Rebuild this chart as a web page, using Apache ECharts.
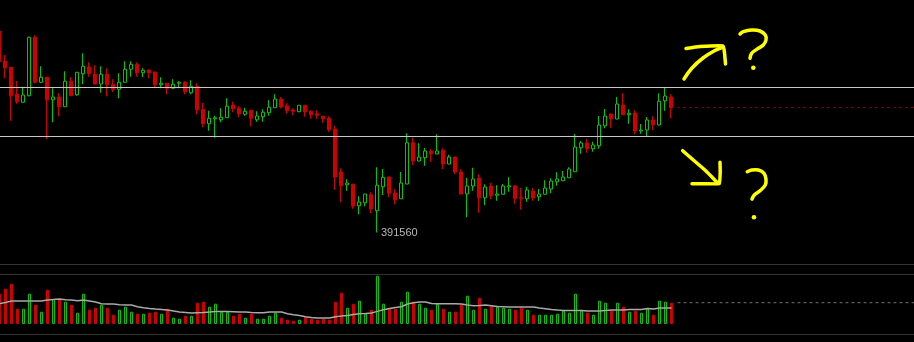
<!DOCTYPE html>
<html>
<head>
<meta charset="utf-8">
<script src="https://cdn.jsdelivr.net/npm/echarts@6/dist/echarts.min.js"></script>
<style>
  html, body { margin: 0; padding: 0; background: #000; }
  #chart { width: 914px; height: 342px; }
</style>
</head>
<body>
<div id="chart"></div>
<script>
// OHLC per bar, oldest first
const opens = [
  399620, 398420, 398170, 397090, 396770, 397030, 399370, 397570, 397770, 396870,
  396980, 396590, 397610, 397070, 397910, 398180, 397890, 397500, 397890, 397490,
  397290, 397570, 398090, 398290, 397950, 398050, 397970, 397470, 397530, 397330,
  397530, 397570, 397150, 397410, 396490, 395910, 396110, 396070, 396150, 396660,
  396530, 396290, 396450, 396070, 396190, 396350, 396550, 396900, 396620, 396460,
  396390, 396650, 396410, 396310, 396210, 396130, 395700, 393980, 393470, 393490,
  392630, 392750, 393070, 392430, 393390, 393780, 393140, 392910, 393500, 395150,
  394420, 394550, 394820, 394700, 394850, 394300, 394580, 393980, 393100, 393420,
  393740, 392950, 393420, 393050, 393090, 393380, 393420, 392950, 392910, 393220,
  392990, 393090, 393300, 393590, 393630, 393750, 393990, 394950, 395140, 394910,
  395030, 395830, 396300, 396100, 396660, 396270, 396340, 395620, 395660, 396060,
  395860, 396830, 396980
];
const closes = [
  398390, 398150, 397030, 396790, 397060, 399370, 397570, 397770, 396870, 396980,
  396590, 397610, 397030, 397970, 398210, 397910, 397500, 397890, 397470, 397290,
  397570, 398090, 398290, 397950, 398050, 397950, 397470, 397530, 397330, 397490,
  397570, 397190, 397410, 396470, 395910, 396130, 396150, 396170, 396610, 396510,
  396310, 396410, 396130, 396220, 396370, 396570, 396900, 396580, 396430, 396410,
  396650, 396390, 396270, 396250, 396110, 395670, 393780, 393430, 393540, 392620,
  392780, 393100, 392500, 393450, 393770, 393130, 392860, 393540, 395150, 394420,
  394580, 394820, 394710, 394820, 394300, 394580, 393980, 393100, 393420, 393700,
  392950, 393380, 393030, 393100, 393420, 393430, 392930, 392910, 393260, 392940,
  393100, 393340, 393620, 393700, 393780, 394100, 394980, 395140, 394910, 395060,
  395860, 396220, 396110, 396700, 396270, 396330, 395620, 395660, 396060, 395870,
  396810, 397020, 396560
];
const lows = [
  398380, 397730, 396030, 396710, 396750, 397010, 397530, 397530, 395290, 395970,
  396210, 396580, 397020, 397030, 397490, 397790, 397490, 397150, 397010, 397180,
  396930, 397550, 397790, 397790, 397770, 397730, 397370, 397330, 397090, 397310,
  397330, 397090, 397090, 396290, 395770, 395630, 395350, 395970, 396140, 396370,
  396170, 396230, 395810, 395990, 395990, 396230, 396540, 396530, 396310, 396250,
  396380, 396190, 396110, 396110, 395950, 395590, 393270, 392770, 393230, 392510,
  392290, 392610, 392330, 391560, 393060, 392970, 392690, 392900, 393490, 394250,
  394410, 394230, 394390, 394690, 394090, 394290, 393900, 393090, 392170, 393230,
  392350, 392650, 392890, 392830, 393070, 393190, 392710, 392470, 392790, 392830,
  392830, 393070, 393130, 393430, 393620, 393740, 393980, 394710, 394750, 394790,
  394910, 395730, 395750, 396090, 396260, 395910, 395490, 395510, 395420, 395650,
  395850, 396430, 396130
];
const highs = [
  399640, 398660, 398180, 397620, 397390, 399390, 399450, 398210, 397780, 397330,
  397130, 398010, 397770, 397980, 398730, 398370, 398250, 398210, 398130, 397690,
  397930, 398410, 398410, 398370, 398130, 398090, 398010, 397770, 397540, 397690,
  397610, 397610, 397650, 397530, 396750, 396430, 396230, 396530, 396930, 396790,
  396610, 396550, 396460, 396410, 396490, 396850, 397090, 396970, 396730, 396530,
  396660, 396660, 396450, 396450, 396220, 396210, 395830, 394130, 393690, 393510,
  393010, 393110, 393170, 394170, 394100, 393790, 393290, 393980, 395530, 395350,
  395130, 394940, 394890, 395490, 394930, 394670, 394590, 394090, 393750, 394150,
  393890, 393490, 393550, 393450, 393500, 393770, 393450, 393350, 393390, 393340,
  393300, 393650, 393730, 393970, 394020, 394170, 395500, 395220, 395300, 395190,
  396220, 396500, 396310, 396980, 397130, 396490, 396450, 395900, 396180, 396210,
  397130, 397350, 397090
];
// Volume per bar and its moving average
const volumes = [
  3030, 3530, 4030, 1530, 1530, 3030, 1930, 1230, 3430, 2500,
  2500, 2230, 1930, 1130, 3030, 1430, 1630, 1930, 1630, 930,
  1430, 1730, 1230, 1030, 1030, 1130, 1230, 1030, 1530, 630,
  530, 830, 830, 2130, 2230, 1730, 2030, 1230, 1230, 830,
  1030, 630, 1030, 530, 530, 830, 1130, 630, 430, 330,
  430, 730, 530, 430, 530, 430, 2230, 3130, 1630, 2030,
  2330, 1030, 1430, 4830, 2030, 1530, 1530, 2230, 3230, 2230,
  2030, 1630, 1430, 2030, 1530, 1230, 1230, 1930, 2830, 1430,
  2630, 1530, 1830, 1730, 1630, 1530, 1430, 1630, 1430, 930,
  930, 930, 930, 1030, 1330, 1130, 3030, 1330, 1130, 930,
  2330, 2130, 1330, 2130, 1730, 1230, 1330, 1130, 1530, 930,
  2330, 2230, 2130
];
const volumeMA = [
  2030, 2160, 2300, 2300, 2300, 2300, 2300, 2300, 2400, 2460,
  2500, 2430, 2400, 2330, 2400, 2300, 2200, 2030, 2000, 2000,
  1930, 1900, 1900, 1730, 1630, 1560, 1500, 1460, 1400, 1300,
  1200, 1160, 1100, 1130, 1160, 1200, 1260, 1260, 1260, 1230,
  1200, 1200, 1160, 1130, 1130, 1200, 1200, 1200, 1030, 930,
  860, 730, 660, 600, 600, 600, 730, 790, 860, 960,
  1030, 1060, 1100, 1260, 1430, 1560, 1660, 1730, 2000, 2130,
  2200, 2200, 2060, 2030, 2030, 2030, 2030, 2000, 1900, 1830,
  1860, 1900, 1830, 1760, 1730, 1700, 1700, 1700, 1700, 1700,
  1600, 1530, 1460, 1400, 1360, 1360, 1360, 1360, 1300, 1300,
  1300, 1360, 1400, 1400, 1400, 1460, 1460, 1460, 1560, 1500,
  1600, 1600, 1600
];
// Horizontal support / resistance levels
const levels = [397360, 395400];

// Time slots: the bars plus empty space to the right edge
const categories = Array.from({ length: 154 }, (_, i) => String(i));

const GREEN = '#00c800';
const RED = '#d00000';
const lastIdx = closes.length - 1;
const lastClose = closes[lastIdx];
const lastVolume = volumes[lastIdx];

const candleData = opens.map((o, i) => [o, closes[i], lows[i], highs[i]]);
const volumeData = volumes.map((v, i) => ({
  value: v,
  itemStyle: closes[i] >= opens[i]
    ? { color: '#000', borderColor: GREEN, borderWidth: 1 }
    : { color: RED, borderColor: RED, borderWidth: 1 }
}));
const closeLine = categories.map((_, i) => (i > lastIdx ? lastClose : null));
const volumeLine = categories.map((_, i) => (i > lastIdx ? lastVolume : null));

const pen = { stroke: '#ffff00', lineWidth: 3.5, fill: null, lineCap: 'round', lineJoin: 'round' };
const stroke = (points, smooth) => ({ type: 'polyline', shape: { points, smooth: smooth || 0 }, style: pen, z: 100 });
const dot = (cx, cy) => ({ type: 'circle', shape: { cx, cy, r: 2.3 }, style: { fill: '#ffff00' }, z: 100 });
const divider = (y) => ({ type: 'line', shape: { x1: 0, y1: y, x2: 914, y2: y }, style: { stroke: '#333333', lineWidth: 1 }, z: 1 });

const chart = echarts.init(document.getElementById('chart'), null, { renderer: 'canvas' });
chart.setOption({
  animation: false,
  backgroundColor: '#000',
  grid: [
    { left: -4, width: 924, top: 0, height: 250, outerBoundsMode: 'none', containLabel: false },
    { left: -3.5, width: 924, top: 264, height: 60, outerBoundsMode: 'none', containLabel: false }
  ],
  xAxis: [
    { type: 'category', data: categories, gridIndex: 0, show: false },
    { type: 'category', data: categories, gridIndex: 1, show: false }
  ],
  yAxis: [
    { type: 'value', gridIndex: 0, min: 390860, max: 400860, show: false, splitLine: { show: false } },
    { type: 'value', gridIndex: 1, min: 0, max: 6000, show: false, splitLine: { show: false } }
  ],
  graphic: [
    divider(264.5), divider(274.5), divider(334.5),
    // upward arrow and question mark
    stroke([[684, 79], [692, 68], [703, 58], [714, 51], [723, 47]], 0.4),
    stroke([[686, 48.5], [700, 46.5], [723, 46], [724.5, 53], [725.5, 64]], 0.15),
    stroke([[740, 34], [743.3, 31.7], [751.7, 30], [760, 31], [765.3, 35], [766, 40], [763.3, 45], [756.7, 49.3], [751.7, 53.3], [750, 58.3]], 0.4),
    dot(753.3, 67.7),
    // downward arrow and question mark
    stroke([[682.7, 150.7], [693.3, 160], [706.7, 171.7], [717.3, 182.7]], 0.3),
    stroke([[720, 162.3], [720.2, 172], [719.3, 183.5], [705, 183.8], [692, 183.7]], 0.1),
    stroke([[747.3, 171.7], [751.7, 170], [758.3, 170], [764, 173.3], [766, 179.3], [765.3, 185], [760, 190.7], [754.3, 195], [752, 199]], 0.4),
    dot(754, 217.3)
  ],
  series: [
    {
      type: 'candlestick',
      xAxisIndex: 0,
      yAxisIndex: 0,
      data: candleData,
      barWidth: 3,
      itemStyle: {
        color: '#000',
        color0: RED,
        borderColor: GREEN,
        borderColor0: RED,
        borderWidth: 1
      },
      markLine: {
        silent: true,
        symbol: ['none', 'none'],
        label: { show: false },
        lineStyle: { color: '#c8c8c8', width: 1, type: 'solid' },
        data: levels.map(v => ({ yAxis: v }))
      },
      markPoint: {
        silent: true,
        symbol: 'circle',
        symbolSize: 0,
        label: {
          show: true,
          position: 'right',
          distance: 4,
          color: '#b8b8b8',
          fontFamily: 'Liberation Sans',
          fontSize: 11,
          formatter: p => String(p.value)
        },
        data: [{ type: 'min', valueDim: 'lowest' }]
      }
    },
    {
      type: 'line',
      xAxisIndex: 0,
      yAxisIndex: 0,
      data: closeLine,
      showSymbol: false,
      silent: true,
      lineStyle: { color: '#7a0000', width: 1, type: [3, 3] }
    },
    {
      type: 'bar',
      xAxisIndex: 1,
      yAxisIndex: 1,
      data: volumeData,
      barWidth: 3
    },
    {
      type: 'line',
      xAxisIndex: 1,
      yAxisIndex: 1,
      data: volumeMA,
      showSymbol: false,
      silent: true,
      lineStyle: { color: '#aaaaaa', width: 1.5 },
      z: 5
    },
    {
      type: 'line',
      xAxisIndex: 1,
      yAxisIndex: 1,
      data: volumeLine,
      showSymbol: false,
      silent: true,
      lineStyle: { color: '#707070', width: 1, type: [3, 3] }
    }
  ]
});
</script>
</body>
</html>
